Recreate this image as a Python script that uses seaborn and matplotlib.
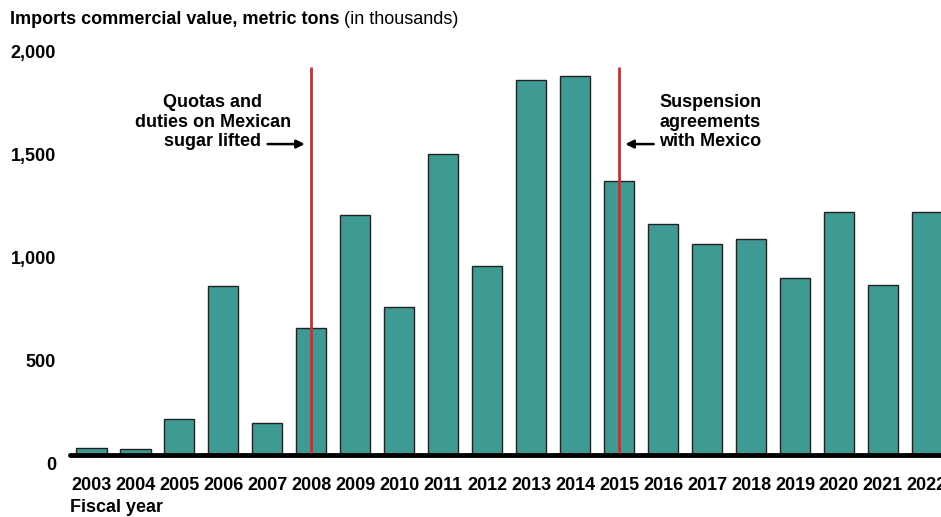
import matplotlib
matplotlib.use("Agg")
import matplotlib.pyplot as plt
import matplotlib.transforms as mtransforms
import seaborn as sns
import pandas as pd

# Data (thousands of metric tons)
years = [str(y) for y in range(2003, 2023)]
imports = [35, 30, 175, 822, 156, 618, 1168, 720, 1465, 920,
           1825, 1844, 1333, 1124, 1027, 1051, 861, 1182, 827, 1182]
yticks = [0, 500, 1000, 1500, 2000]
ytick_labels = ["0", "500", "1,000", "1,500", "2,000"]
events = {"2008": "Quotas and\nduties on Mexican\nsugar lifted",
          "2015": "Suspension\nagreements\nwith Mexico"}

df = pd.DataFrame({"year": years, "imports": imports})

sns.set_style("white")
plt.rcParams["font.family"] = ["Liberation Sans", "DejaVu Sans"]
plt.rcParams["text.color"] = "black"
plt.rcParams["xtick.color"] = "black"
plt.rcParams["ytick.color"] = "black"

FS = 13

fig = plt.figure(figsize=(9.41, 5.17), dpi=100)
W, H = 941, 517
ax = fig.add_axes([70 / W, (H - 455) / H, (W - 70) / W, 411 / H])

sns.barplot(data=df, x="year", y="imports", color="#3f9a93", saturation=1,
            width=0.7, edgecolor="#222222", linewidth=1, ax=ax)

ax.set_xlim(-0.48, 19.32)
ax.set_ylim(0, 2000)
ax.axhline(0, color="black", lw=3.5, zorder=5, clip_on=False)

# event lines
red = "#b5373d"
top_line = 1888
i08 = years.index("2008")
i15 = years.index("2015")
ax.vlines([i08, i15], 10, top_line, color=red, lw=2, zorder=6)

ax.text(2.77, 1620, events["2008"], ha="center", va="center",
        fontsize=FS, fontweight="bold", linespacing=1.2)
ax.annotate("", xy=(i08 - 0.08, 1513), xytext=(3.95, 1513),
            arrowprops=dict(arrowstyle="-|>", color="black", lw=1.8, mutation_scale=12))
ax.text(14.07, 1620, events["2015"], ha="center", va="center",
        fontsize=FS, fontweight="bold", linespacing=1.2)
ax.annotate("", xy=(i15 + 0.08, 1513), xytext=(12.85, 1513),
            arrowprops=dict(arrowstyle="-|>", color="black", lw=1.8, mutation_scale=12))

# axes styling
for s in ax.spines.values():
    s.set_visible(False)
ax.set_yticks(yticks)
ax.set_yticklabels(ytick_labels, fontsize=FS, fontweight="bold")
ax.tick_params(axis="y", length=0, pad=10)
ax.tick_params(axis="x", length=0, pad=16)
for lab in ax.get_xticklabels():
    lab.set_fontsize(FS)
    lab.set_fontweight("bold")
off = mtransforms.ScaledTranslation(0, -8 / 100, fig.dpi_scale_trans)
for lab in ax.get_yticklabels():
    lab.set_transform(lab.get_transform() + off)
ax.set_xlabel("")
ax.set_ylabel("")

fig.text(70 / W, 1 - 507 / H, "Fiscal year", fontsize=FS, fontweight="bold",
         ha="left", va="center")
t1 = fig.text(10 / W, 1 - 20 / H, "Imports commercial value, metric tons",
              fontsize=FS, fontweight="bold", ha="left", va="center")
fig.canvas.draw()
bb = t1.get_window_extent()
fig.text(bb.x1 / W + 4 / W, 1 - 20 / H, "(in thousands)", fontsize=FS,
         ha="left", va="center")

fig.savefig("out.png", dpi=100)
